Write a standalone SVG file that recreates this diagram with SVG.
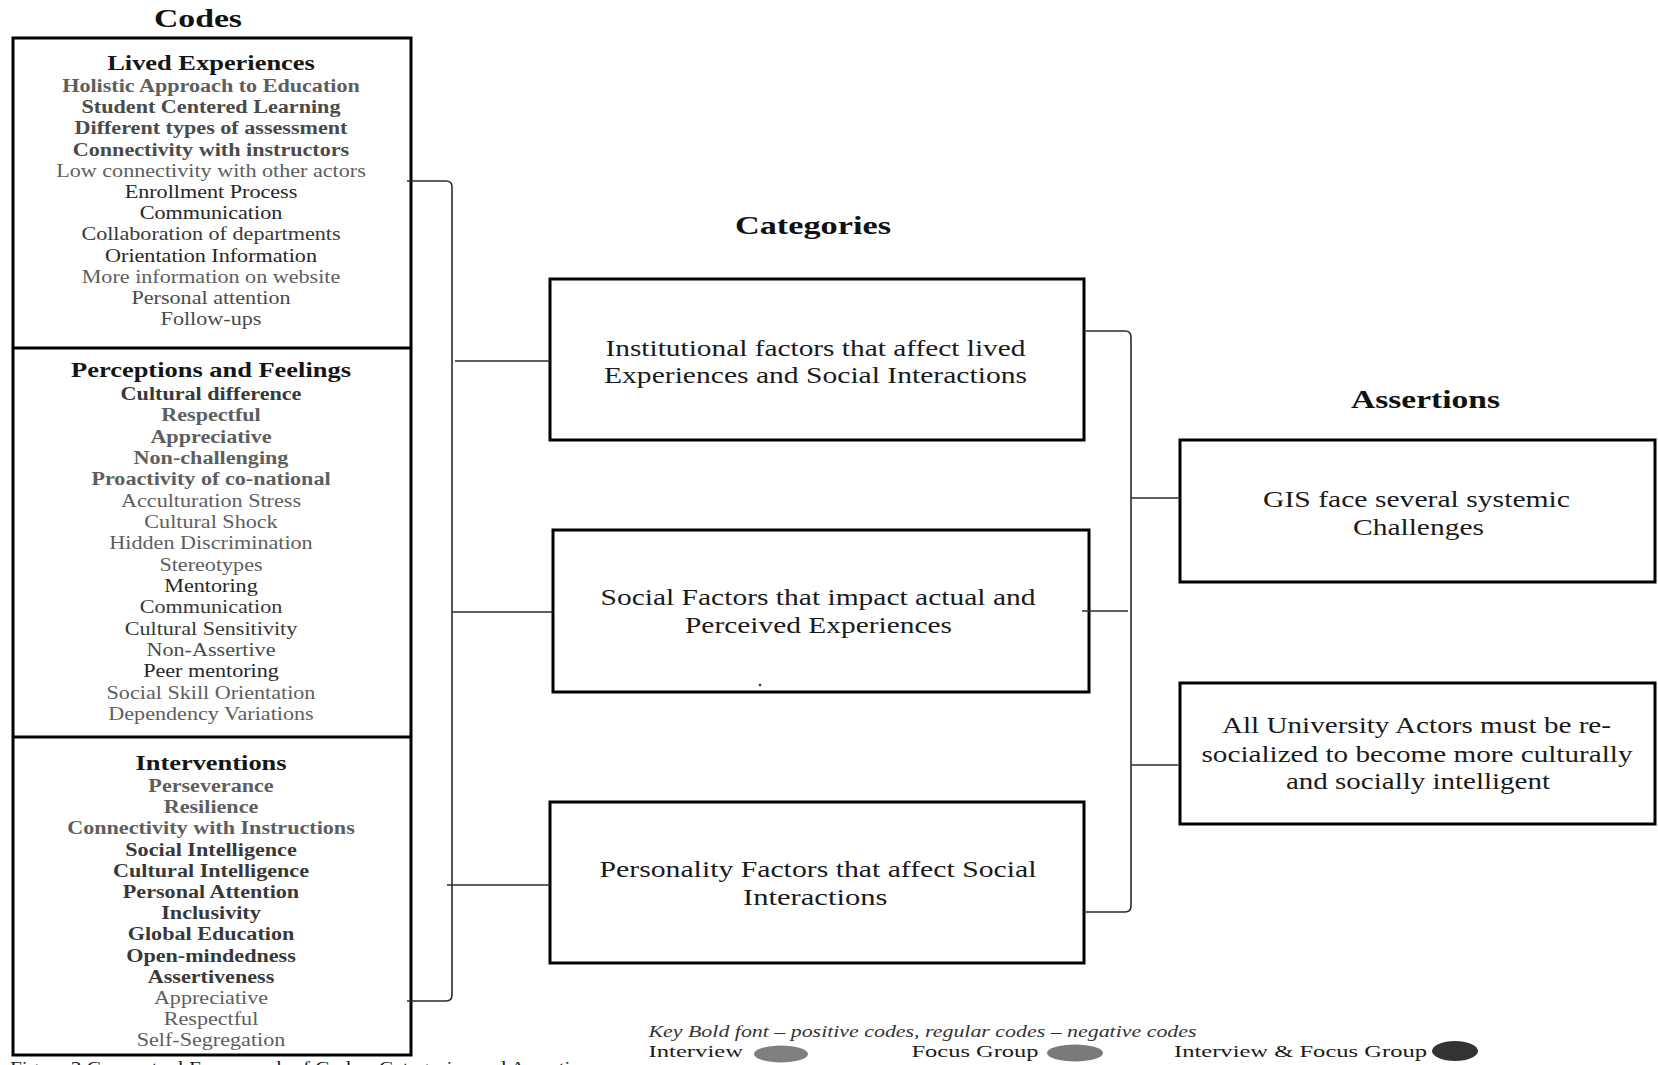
<svg xmlns="http://www.w3.org/2000/svg" width="1658" height="1065" viewBox="0 0 1658 1065">
  <style>
    text { font-family: "Liberation Serif", "Times New Roman", serif; }
    .title { font-size: 26px; font-weight: bold; fill: #111; }
    .head { font-size: 21.5px; font-weight: bold; fill: #151515; text-anchor: middle; }
    .code { font-size: 18px; text-anchor: middle; }
    .pos { font-weight: bold; }
    .g2 { fill: #262626; }
    .g3 { fill: #383838; }
    .g4 { fill: #4a4a4a; }
    .g5 { fill: #5e5e5e; }
    .box { fill: #fff; stroke: #000; stroke-width: 3; }
    .lbl { font-size: 23px; fill: #1a1a1a; }
    .link { fill: none; stroke: #2b2b2b; stroke-width: 1.6; }
    .key { font-size: 16px; font-style: italic; fill: #333; }
    .leg { font-size: 17px; fill: #1a1a1a; }
  </style>

  <rect x="0" y="0" width="1658" height="1065" fill="#fff"/>

  <!-- column headings -->
  <text class="title" x="154" y="27" textLength="88" lengthAdjust="spacingAndGlyphs">Codes</text>
  <text class="title" x="735" y="234" textLength="156" lengthAdjust="spacingAndGlyphs">Categories</text>
  <text class="title" x="1351" y="408" textLength="149" lengthAdjust="spacingAndGlyphs">Assertions</text>

  <!-- codes column: one framed box in three sections -->
  <g id="codes">
    <rect class="box" x="13" y="38" width="398" height="1017"/>
    <line x1="13" y1="348" x2="411" y2="348" stroke="#000" stroke-width="3"/>
    <line x1="13" y1="737" x2="411" y2="737" stroke="#000" stroke-width="3"/>

    <g id="lived-experiences" transform="translate(211 0) scale(1.23 1)">
      <text class="head" x="0" y="70">Lived Experiences</text>
      <text class="code pos g5" x="0" y="92">Holistic Approach to Education</text>
      <text class="code pos g4" x="0" y="113.2">Student Centered Learning</text>
      <text class="code pos g4" x="0" y="134.4">Different types of assessment</text>
      <text class="code pos g4" x="0" y="155.6">Connectivity with instructors</text>
      <text class="code g5" x="0" y="176.8">Low connectivity with other actors</text>
      <text class="code g2" x="0" y="198">Enrollment Process</text>
      <text class="code g2" x="0" y="219.2">Communication</text>
      <text class="code g3" x="0" y="240.4">Collaboration of departments</text>
      <text class="code g2" x="0" y="261.6">Orientation Information</text>
      <text class="code g5" x="0" y="282.8">More information on website</text>
      <text class="code g4" x="0" y="304">Personal attention</text>
      <text class="code g4" x="0" y="325.2">Follow-ups</text>
    </g>

    <g id="perceptions-feelings" transform="translate(211 0) scale(1.23 1)">
      <text class="head" x="0" y="377">Perceptions and Feelings</text>
      <text class="code pos g3" x="0" y="400">Cultural difference</text>
      <text class="code pos g5" x="0" y="421.3">Respectful</text>
      <text class="code pos g5" x="0" y="442.7">Appreciative</text>
      <text class="code pos g5" x="0" y="464">Non-challenging</text>
      <text class="code pos g5" x="0" y="485.3">Proactivity of co-national</text>
      <text class="code g5" x="0" y="506.7">Acculturation Stress</text>
      <text class="code g5" x="0" y="528">Cultural Shock</text>
      <text class="code g5" x="0" y="549.3">Hidden Discrimination</text>
      <text class="code g5" x="0" y="570.7">Stereotypes</text>
      <text class="code g2" x="0" y="592">Mentoring</text>
      <text class="code g3" x="0" y="613.3">Communication</text>
      <text class="code g3" x="0" y="634.7">Cultural Sensitivity</text>
      <text class="code g4" x="0" y="656">Non-Assertive</text>
      <text class="code g2" x="0" y="677.3">Peer mentoring</text>
      <text class="code g5" x="0" y="698.7">Social Skill Orientation</text>
      <text class="code g5" x="0" y="720">Dependency  Variations</text>
    </g>

    <g id="interventions" transform="translate(211 0) scale(1.23 1)">
      <text class="head" x="0" y="770">Interventions</text>
      <text class="code pos g5" x="0" y="792">Perseverance</text>
      <text class="code pos g5" x="0" y="813.2">Resilience</text>
      <text class="code pos g5" x="0" y="834.4">Connectivity with Instructions</text>
      <text class="code pos g3" x="0" y="855.6">Social Intelligence</text>
      <text class="code pos g3" x="0" y="876.8">Cultural Intelligence</text>
      <text class="code pos g3" x="0" y="898">Personal Attention</text>
      <text class="code pos g3" x="0" y="919.2">Inclusivity</text>
      <text class="code pos g3" x="0" y="940.4">Global Education</text>
      <text class="code pos g3" x="0" y="961.6">Open-mindedness</text>
      <text class="code pos g3" x="0" y="982.8">Assertiveness</text>
      <text class="code g5" x="0" y="1004">Appreciative</text>
      <text class="code g5" x="0" y="1025.2">Respectful</text>
      <text class="code g5" x="0" y="1046.4">Self-Segregation</text>
    </g>
  </g>

  <!-- categories -->
  <g id="cat-institutional">
    <rect class="box" x="550" y="279" width="534" height="161"/>
    <text class="lbl" x="605.5" y="356" textLength="420" lengthAdjust="spacingAndGlyphs">Institutional factors that affect lived</text>
    <text class="lbl" x="604" y="383" textLength="423" lengthAdjust="spacingAndGlyphs">Experiences and Social Interactions</text>
  </g>
  <g id="cat-social">
    <rect class="box" x="553" y="530" width="536" height="162"/>
    <text class="lbl" x="600.5" y="605" textLength="435" lengthAdjust="spacingAndGlyphs">Social Factors that impact actual and</text>
    <text class="lbl" x="685" y="633" textLength="267" lengthAdjust="spacingAndGlyphs">Perceived Experiences</text>
    <circle cx="760" cy="685" r="1.3" fill="#333"/>
  </g>
  <g id="cat-personality">
    <rect class="box" x="550" y="802" width="534" height="161"/>
    <text class="lbl" x="599.5" y="877" textLength="437" lengthAdjust="spacingAndGlyphs">Personality Factors that affect Social</text>
    <text class="lbl" x="743" y="905" textLength="144.5" lengthAdjust="spacingAndGlyphs">Interactions</text>
  </g>

  <!-- assertions -->
  <g id="assert-challenges">
    <rect class="box" x="1180" y="440" width="475" height="142"/>
    <text class="lbl" x="1263" y="507" textLength="307" lengthAdjust="spacingAndGlyphs">GIS face several systemic</text>
    <text class="lbl" x="1353" y="535" textLength="131" lengthAdjust="spacingAndGlyphs">Challenges</text>
  </g>
  <g id="assert-resocialize">
    <rect class="box" x="1180" y="683" width="475" height="141"/>
    <text class="lbl" x="1222" y="733" textLength="389" lengthAdjust="spacingAndGlyphs">All University  Actors must be re-</text>
    <text class="lbl" x="1201.5" y="762" textLength="431" lengthAdjust="spacingAndGlyphs">socialized to become more culturally</text>
    <text class="lbl" x="1286" y="789" textLength="264" lengthAdjust="spacingAndGlyphs">and socially intelligent</text>
  </g>

  <!-- brackets and connectors -->
  <g id="connectors">
    <path class="link" d="M407,181 L446,181 Q452,181 452,187 L452,995 Q452,1001 446,1001 L407,1001"/>
    <line class="link" x1="455" y1="361" x2="550" y2="361"/>
    <line class="link" x1="452" y1="612" x2="553" y2="612"/>
    <line class="link" x1="447" y1="885" x2="550" y2="885"/>

    <path class="link" d="M1084,331 L1125,331 Q1131,331 1131,337 L1131,906 Q1131,912 1125,912 L1084,912"/>
    <line class="link" x1="1082" y1="611" x2="1128" y2="611"/>
    <line class="link" x1="1131" y1="498" x2="1180" y2="498"/>
    <line class="link" x1="1131" y1="765" x2="1178" y2="765"/>
  </g>

  <!-- legend -->
  <g id="legend">
    <text class="key" x="648.5" y="1036.5" textLength="548" lengthAdjust="spacingAndGlyphs">Key Bold font – positive codes, regular codes – negative codes</text>
    <text class="leg" x="648.5" y="1057" textLength="94.5" lengthAdjust="spacingAndGlyphs">Interview</text>
    <ellipse cx="781" cy="1054" rx="27" ry="8.5" fill="#7f7f7f"/>
    <text class="leg" x="911.5" y="1057" textLength="127" lengthAdjust="spacingAndGlyphs">Focus Group</text>
    <ellipse cx="1075" cy="1053" rx="28" ry="8.5" fill="#7a7a7a"/>
    <text class="leg" x="1174" y="1057" textLength="253" lengthAdjust="spacingAndGlyphs">Interview &amp; Focus Group</text>
    <ellipse cx="1455" cy="1051" rx="23" ry="10" fill="#333"/>
  </g>

  <!-- figure caption, running past the lower edge -->
  <text class="leg" x="10" y="1073" textLength="590" lengthAdjust="spacingAndGlyphs">Figure 3 Conceptual Framework of Codes, Categories and Assertions</text>
</svg>
